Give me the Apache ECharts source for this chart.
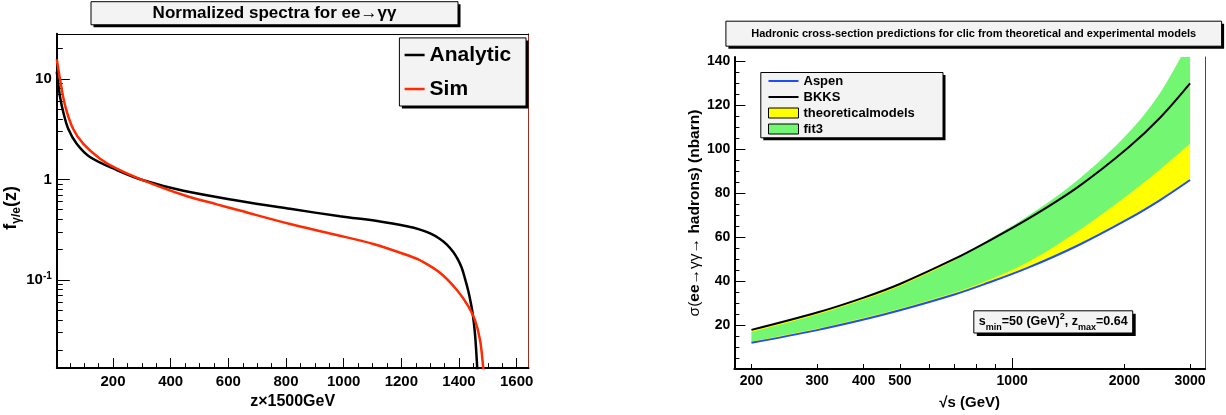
<!DOCTYPE html>
<html><head><meta charset="utf-8">
<script src="https://cdn.jsdelivr.net/npm/echarts@6/dist/echarts.min.js"></script>
<style>html,body{margin:0;padding:0;background:#fff}#c{width:1226px;height:415px}</style>
</head><body><div id="c"></div>
<script>
const FONT = "'Liberation Sans', Arial, Helvetica, sans-serif";

// ---------- left panel: normalized spectra ----------
const analyticZ = [5, 16, 28, 45, 74, 120, 213, 305, 444, 640, 814, 987, 1126, 1219, 1265, 1300, 1334, 1357, 1380, 1395, 1409, 1420, 1432, 1442, 1448, 1455, 1460, 1464];
const analyticF = [11.8, 6.7, 4.6, 3.17, 2.26, 1.67, 1.24, 0.98, 0.77, 0.61, 0.51, 0.43, 0.382, 0.342, 0.317, 0.29, 0.256, 0.226, 0.19, 0.162, 0.133, 0.105, 0.078, 0.057, 0.045, 0.03, 0.019, 0.012];
const simZ = [5, 16, 34, 62, 97, 155, 213, 305, 444, 560, 640, 814, 964, 1103, 1236, 1265, 1334, 1392, 1432, 1455, 1473, 1484, 1489];
const simF = [15.7, 10, 5.4, 3.17, 2.26, 1.61, 1.28, 0.98, 0.70, 0.565, 0.49, 0.36, 0.285, 0.228, 0.17, 0.157, 0.118, 0.08, 0.055, 0.04, 0.0253, 0.0133, 0.009];
const leftXLabels = [200, 400, 600, 800, 1000, 1200, 1400, 1600];
const leftXMinor = [50, 100, 150, 250, 300, 350, 450, 500, 550, 650, 700, 750, 850, 900, 950, 1050, 1100, 1150, 1250, 1300, 1350, 1450, 1500, 1550];
const leftYLabels = [0.1, 1, 10];
const leftYMinor = [0.02, 0.03, 0.04, 0.05, 0.06, 0.07, 0.08, 0.09, 0.2, 0.3, 0.4, 0.5, 0.6, 0.7, 0.8, 0.9, 2, 3, 4, 5, 6, 7, 8, 9, 20];

// ---------- right panel: hadronic cross-section ----------
const sqrtS    = [200, 300, 400, 500, 700, 840, 1100, 1500, 2050, 2500, 3000];
const aspen    = [11.9, 17.7, 22.5, 26.7, 33.9, 38.5, 46.0, 56.2, 68.3, 77.0, 86.0];
const bkks     = [17.8, 25.7, 32.5, 38.7, 50.1, 57.1, 68.2, 82.8, 100.8, 114.6, 130.0];
const fit3Low  = [12.5, 18.4, 23.3, 27.5, 34.8, 39.7, 48.6, 62.7, 79.3, 91.0, 102.5];
const fit3High = [16.8, 24.8, 31.6, 37.8, 49.5, 57.6, 69.5, 86.0, 107.5, 126, 150];
const rightXLabels = [200, 300, 400, 500, 1000, 2000, 3000];
const rightXTicks = [200, 300, 400, 500, 600, 700, 800, 900, 2000, 3000];
const rightXMajor = [1000];
const rightYLabels = [20, 40, 60, 80, 100, 120, 140];
const rightYTicks = [0, 20, 40, 60, 80, 100, 120, 140];
const rightYMinor = [5, 10, 15, 25, 30, 35, 45, 50, 55, 65, 70, 75, 85, 90, 95, 105, 110, 115, 125, 130, 135];

const SMOOTH = 0.35;
const pairs = (xs, ys) => xs.map((x, i) => [x, ys[i]]);

function smoothPath(p, move) {
  let d = move ? 'M' + p[0][0] + ',' + p[0][1] : '';
  const n = p.length;
  const cps = p.map((pt, i) => {
    if (i === 0 || i === n - 1) return [pt, pt];
    const prev = p[i - 1], next = p[i + 1];
    const vx = next[0] - prev[0], vy = next[1] - prev[1];
    const d0 = Math.hypot(pt[0] - prev[0], pt[1] - prev[1]);
    const d1 = Math.hypot(next[0] - pt[0], next[1] - pt[1]);
    const r = d1 / (d0 + d1);
    return [[pt[0] - vx * SMOOTH * (1 - r), pt[1] - vy * SMOOTH * (1 - r)],
            [pt[0] + vx * SMOOTH * r, pt[1] + vy * SMOOTH * r]];
  });
  for (let i = 0; i < n - 1; i++) {
    const c1 = cps[i][1], c2 = cps[i + 1][0], q = p[i + 1];
    d += ' C' + c1[0] + ',' + c1[1] + ' ' + c2[0] + ',' + c2[1] + ' ' + q[0] + ',' + q[1];
  }
  return d;
}

function bandSeries(name, color, xs, lo, hi) {
  return {
    name: name, type: 'custom', xAxisIndex: 3, yAxisIndex: 3, clip: true,
    itemStyle: { color: color }, color: color,
    data: xs.map((x, i) => [x, lo[i], hi[i]]),
    encode: { x: 0, y: [1, 2] },
    renderItem: function (params, api) {
      if (params.dataIndex !== 0) return null;
      const up = xs.map((x, i) => api.coord([x, hi[i]]));
      const dn = xs.map((x, i) => api.coord([x, lo[i]])).reverse();
      const d = smoothPath(up, true) + ' L' + dn[0][0] + ',' + dn[0][1] + smoothPath(dn, false) + ' Z';
      const cs = params.coordSys;
      return {
        type: 'group',
        clipPath: { type: 'rect', shape: { x: cs.x, y: cs.y, width: cs.width, height: cs.height } },
        children: [{ type: 'path', shape: { pathData: d }, style: { fill: color, stroke: null } }]
      };
    }
  };
}

function box(x, y, w, h, sh) {
  return [
    { type: 'rect', silent: true, z: 10, shape: { x: x + sh, y: y + sh, width: w, height: h }, style: { fill: '#000' } },
    { type: 'rect', silent: true, z: 11, shape: { x: x, y: y, width: w, height: h }, style: { fill: '#f3f3f3', stroke: '#000', lineWidth: 1 } }
  ];
}

const bold = (s) => ({ fontFamily: FONT, fontWeight: 'bold', fontSize: s, color: '#000' });
const noLine = { show: false };
const tick = (len, values) => ({ show: true, inside: true, length: len, customValues: values, lineStyle: { color: '#000', width: 1 } });
// thin horizontal bar icon inside a 30x10 box (tiny corner marks keep the bounding box)
const LINE_ICON = 'path://M0,0L0.01,0L0.01,0.01L0,0.01Z M0,4L30,4L30,6L0,6Z M29.99,9.99L30,9.99L30,10L29.99,10Z';

const G0 = { left: 56.8, top: 33.8, width: 471.7, height: 339.2 };
const G1 = { left: 734.4, top: 57, width: 470.6, height: 318.7 };
const LX = [5, 1641], LY = [0.01328, 28.1], RX = [180, 3290], RY = [0, 142];

const chart = echarts.init(document.getElementById('c'), null, { renderer: 'canvas', width: 1226, height: 415 });

const option = {
  animation: false,
  backgroundColor: '#fff',
  grid: [Object.assign({}, G0), Object.assign({}, G1)],
  xAxis: [
    { // 0 left main
      type: 'value', gridIndex: 0, min: LX[0], max: LX[1], position: 'bottom',
      axisLine: { show: true, lineStyle: { color: '#000', width: 2 } },
      axisTick: tick(10, leftXLabels),
      axisLabel: Object.assign(bold(15), { margin: 6, customValues: leftXLabels, formatter: v => String(Math.round(v)) }),
      splitLine: noLine,
      name: 'z×1500GeV', nameLocation: 'middle', nameGap: 25, nameTextStyle: bold(16)
    },
    { // 1 left minor ticks
      type: 'value', gridIndex: 0, min: LX[0], max: LX[1], position: 'bottom',
      axisLine: noLine, axisLabel: noLine, splitLine: noLine,
      axisTick: tick(5, leftXMinor)
    },
    { // 2 left top border
      type: 'value', gridIndex: 0, min: 0, max: 1, position: 'top',
      axisLine: { show: true, lineStyle: { color: '#000', width: 1 } }, axisTick: noLine, axisLabel: noLine, splitLine: noLine
    },
    { // 3 right main (log)
      type: 'log', logBase: 10, gridIndex: 1, min: RX[0], max: RX[1], position: 'bottom',
      axisLine: { show: true, lineStyle: { color: '#000', width: 2 } },
      axisTick: tick(5, rightXTicks),
      axisLabel: Object.assign(bold(14), { margin: 5, customValues: rightXLabels, formatter: v => String(Math.round(v)) }),
      splitLine: noLine, minorTick: noLine,
      name: '√s (GeV)', nameLocation: 'middle', nameGap: 26, nameTextStyle: bold(15)
    },
    { // 4 right major tick at 1000
      type: 'log', logBase: 10, gridIndex: 1, min: RX[0], max: RX[1], position: 'bottom',
      axisLine: noLine, axisLabel: noLine, splitLine: noLine, minorTick: noLine,
      axisTick: tick(11, rightXMajor)
    },
    { // 5 right top border
      type: 'value', gridIndex: 1, min: 0, max: 1, position: 'top',
      axisLine: { show: true, lineStyle: { color: '#000', width: 1 } }, axisTick: noLine, axisLabel: noLine, splitLine: noLine
    }
  ],
  yAxis: [
    { // 0 left main (log)
      type: 'log', logBase: 10, gridIndex: 0, min: LY[0], max: LY[1], position: 'left',
      axisLine: { show: true, lineStyle: { color: '#000', width: 2 } },
      axisTick: tick(13, leftYLabels),
      axisLabel: {
        margin: 5, customValues: leftYLabels,
        formatter: v => { const e = Math.round(Math.log10(v)); return e === 1 ? '{a|10}' : (e === 0 ? '{a|1}' : '{a|10}{b|-1}'); },
        rich: { a: Object.assign(bold(15), { lineHeight: 18 }), b: Object.assign(bold(10), { lineHeight: 10, verticalAlign: 'top' }) }
      },
      splitLine: noLine, minorTick: noLine,
      name: '{f|f}{s|γ/e}{f|(z)}', nameLocation: 'middle', nameGap: 32,
      nameTextStyle: { padding: [0, 14, 0, 0], rich: { f: Object.assign(bold(18), { lineHeight: 22 }), s: Object.assign(bold(12), { lineHeight: 13, verticalAlign: 'bottom' }) } }
    },
    { // 1 left minor ticks
      type: 'log', logBase: 10, gridIndex: 0, min: LY[0], max: LY[1], position: 'left',
      axisLine: noLine, axisLabel: noLine, splitLine: noLine, minorTick: noLine,
      axisTick: tick(6, leftYMinor)
    },
    { // 2 left right border
      type: 'value', gridIndex: 0, min: 0, max: 1, position: 'right',
      axisLine: { show: true, lineStyle: { color: '#9b2d20', width: 1 } }, axisTick: noLine, axisLabel: noLine, splitLine: noLine
    },
    { // 3 right main
      type: 'value', gridIndex: 1, min: RY[0], max: RY[1], position: 'left',
      axisLine: { show: true, lineStyle: { color: '#000', width: 2 } },
      axisTick: tick(11, rightYTicks),
      axisLabel: Object.assign(bold(14), { margin: 4, customValues: rightYLabels }),
      splitLine: noLine,
      name: '{n|σ(}{b|ee}{n|→γγ→ }{b|hadrons) (nbarn)}', nameLocation: 'middle', nameGap: 30,
      nameTextStyle: { rich: { n: { fontFamily: FONT, fontSize: 15.5, color: '#000' }, b: bold(15.5) } }
    },
    { // 4 right minor ticks
      type: 'value', gridIndex: 1, min: RY[0], max: RY[1], position: 'left',
      axisLine: noLine, axisLabel: noLine, splitLine: noLine,
      axisTick: tick(5, rightYMinor)
    },
    { // 5 right right border
      type: 'value', gridIndex: 1, min: 0, max: 1, position: 'right',
      axisLine: { show: true, lineStyle: { color: '#9b2d20', width: 1 } }, axisTick: noLine, axisLabel: noLine, splitLine: noLine
    }
  ],
  legend: [
    {
      left: 404.6, top: 43, padding: 0, orient: 'vertical', itemWidth: 20, itemHeight: 2.5, itemGap: 10, z: 20, selectedMode: false,
      icon: 'rect', itemStyle: { borderWidth: 0 },
      data: ['Analytic', 'Sim'],
      textStyle: Object.assign(bold(21), { lineHeight: 24 })
    },
    {
      left: 768, top: 73, padding: 0, orient: 'vertical', itemWidth: 30, itemHeight: 10, itemGap: 0, z: 20, selectedMode: false,
      data: [
        { name: 'Aspen', icon: LINE_ICON, itemStyle: { color: '#1f4ef5', borderWidth: 0 } },
        { name: 'BKKS', icon: LINE_ICON, itemStyle: { color: '#000', borderWidth: 0 } },
        { name: 'theoreticalmodels', icon: 'rect', itemStyle: { color: '#ffff00', borderColor: '#000', borderWidth: 1 } },
        { name: 'fit3', icon: 'rect', itemStyle: { color: '#73f773', borderColor: '#000', borderWidth: 1 } }
      ],
      textStyle: Object.assign(bold(13), { lineHeight: 16 })
    }
  ],
  graphic: [].concat(
    box(91, 1.7, 367, 23.1, 2.5),
    [{ type: 'text', z: 12, silent: true, x: 274.5, y: 13.3, style: { text: 'Normalized spectra for ee→γγ', fontFamily: FONT, fontWeight: 'bold', fontSize: 17, fill: '#000', align: 'center', verticalAlign: 'middle' } }],
    box(399.4, 37.9, 126.6, 68.1, 2.5),
    box(725.9, 21.2, 495.7, 25, 2.5),
    [{ type: 'text', z: 12, silent: true, x: 973.7, y: 33.7, style: { text: 'Hadronic cross-section predictions for clic from theoretical and experimental models', fontFamily: FONT, fontWeight: 'bold', fontSize: 11, fill: '#000', align: 'center', verticalAlign: 'middle' } }],
    box(760.8, 72.5, 182.2, 65.3, 2.5),
    box(973.8, 310.8, 158.9, 22.2, 3),
    [{ type: 'text', z: 12, silent: true, x: 1053.2, y: 322, style: {
      text: '{t|s}{s|min}{t|=50 (GeV)}{p|2}{t|, z}{s|max}{t|=0.64}', align: 'center', verticalAlign: 'middle',
      rich: {
        t: Object.assign(bold(12.5), { lineHeight: 20 }),
        s: Object.assign(bold(9), { lineHeight: 12, verticalAlign: 'bottom' }),
        p: Object.assign(bold(9), { lineHeight: 12, verticalAlign: 'top' })
      } } }]
  ),
  series: [
    { name: 'Analytic', type: 'line', xAxisIndex: 0, yAxisIndex: 0, data: pairs(analyticZ, analyticF), symbol: 'none', smooth: SMOOTH, color: '#000', lineStyle: { color: '#000', width: 2.5 } },
    { name: 'Sim', type: 'line', xAxisIndex: 0, yAxisIndex: 0, data: pairs(simZ, simF), symbol: 'none', smooth: SMOOTH, color: '#ff2a00', lineStyle: { color: '#ff2a00', width: 2.5 } },
    bandSeries('theoreticalmodels', '#ffff00', sqrtS, aspen, bkks),
    bandSeries('fit3', '#73f773', sqrtS, fit3Low, fit3High),
    { name: 'Aspen', type: 'line', xAxisIndex: 3, yAxisIndex: 3, data: pairs(sqrtS, aspen), symbol: 'none', smooth: SMOOTH, color: '#1f4ef5', lineStyle: { color: '#1f4ef5', width: 2 } },
    { name: 'BKKS', type: 'line', xAxisIndex: 3, yAxisIndex: 3, data: pairs(sqrtS, bkks), symbol: 'none', smooth: SMOOTH, color: '#000', lineStyle: { color: '#000', width: 2 } }
  ]
};

chart.setOption(option);
</script>
</body></html>
